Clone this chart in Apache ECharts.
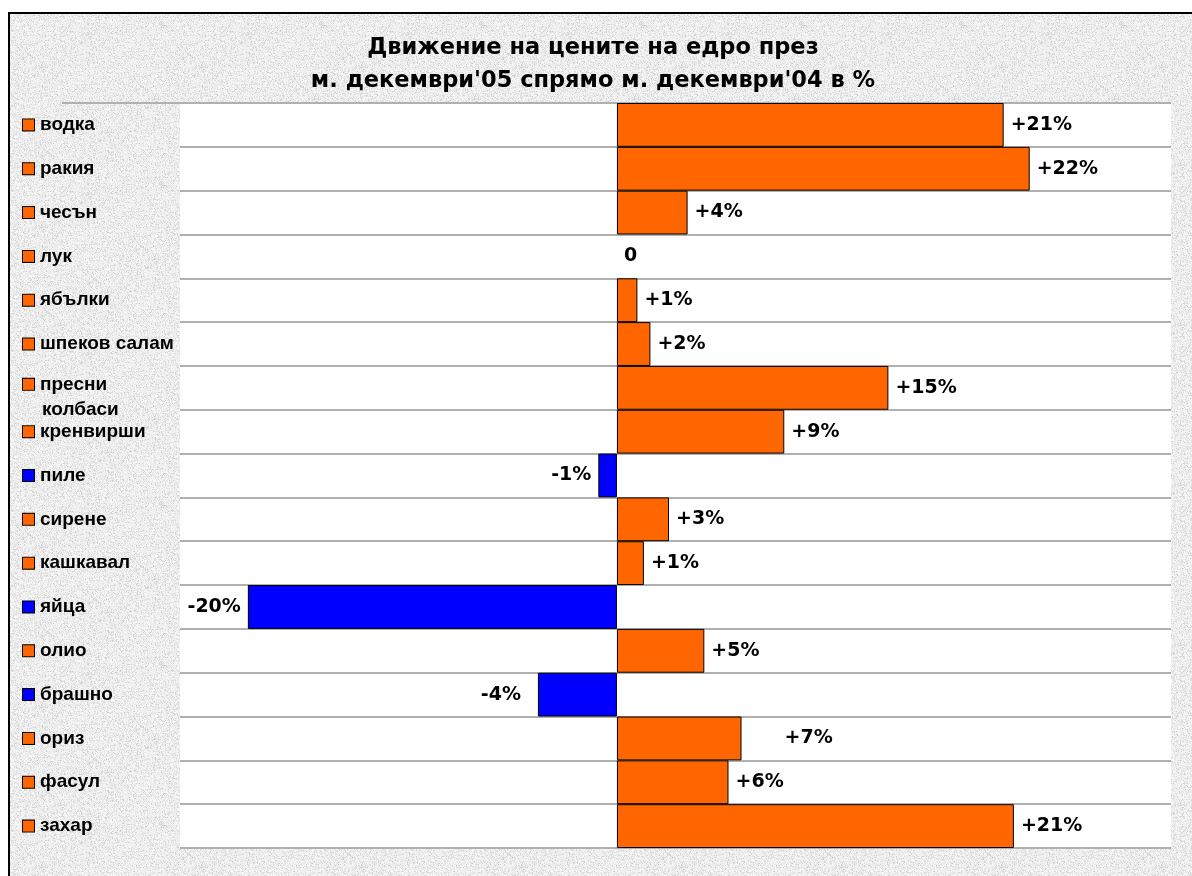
<!DOCTYPE html>
<html>
<head>
<meta charset="utf-8">
<script src="https://cdn.jsdelivr.net/npm/echarts@6/dist/echarts.min.js"></script>
<style>
  html, body { margin: 0; padding: 0; background: #fff; }
  #frame {
    position: absolute; left: 8px; top: 12px;
    width: 1200px; height: 880px;
    border-top: 2px solid #000; border-left: 2px solid #000;
    background-color: #e8e8e8;
  }
  #chart { position: absolute; left: 0; top: 0; width: 1192px; height: 876px; }
</style>
</head>
<body>
<div id="frame"></div>
<div id="chart"></div>
<script>
// data, top row first
var categories = ['водка', 'ракия', 'чесън', 'лук', 'ябълки', 'шпеков салам', 'пресни колбаси',
  'кренвирши', 'пиле', 'сирене', 'кашкавал', 'яйца', 'олио', 'брашно', 'ориз', 'фасул', 'захар'];
var values = [20.8, 22.2, 3.8, 0, 1.1, 1.8, 14.6, 9.0, -1.0, 2.8, 1.45, -19.85, 4.7, -4.25, 6.7, 6.0, 21.35];
var valueLabels = ['+21%', '+22%', '+4%', '0', '+1%', '+2%', '+15%', '+9%', '-1%', '+3%', '+1%',
  '-20%', '+5%', '-4%', '+7%', '+6%', '+21%'];

var title = 'Движение на цените на едро през\nм. декември\'05 спрямо м. декември\'04 в %';

var ORANGE = '#ff6600';
var BLUE = '#0000ff';

// granite-like background texture (deterministic noise)
(function () {
  var c = document.createElement('canvas');
  c.width = 160; c.height = 160;
  var ctx = c.getContext('2d');
  var img = ctx.createImageData(160, 160);
  var seed = 12345;
  function rnd() { seed = (seed * 1103515245 + 12345) & 0x7fffffff; return seed / 0x7fffffff; }
  for (var i = 0; i < img.data.length; i += 4) {
    var r = rnd();
    var g = r < 0.15 ? 205 + rnd() * 20 : 228 + rnd() * 22;
    img.data[i] = img.data[i + 1] = img.data[i + 2] = g;
    img.data[i + 3] = 255;
  }
  ctx.putImageData(img, 0, 0);
  document.getElementById('frame').style.backgroundImage = 'url(' + c.toDataURL() + ')';
})();

var myChart = echarts.init(document.getElementById('chart'));

var barData = values.map(function (v, i) {
  var item = {
    value: v,
    itemStyle: { color: v < 0 ? BLUE : ORANGE, borderWidth: v === 0 ? 0 : 1 },
    label: { position: v < 0 ? 'left' : 'right' }
  };
  // labels that were moved away from their bars in the original
  if (categories[i] === 'ориз') item.label.offset = [36, 0];
  if (categories[i] === 'брашно') item.label.offset = [-10, 0];
  return item;
});

var labelFont = {
  fontFamily: 'Liberation Sans', fontSize: 19, fontWeight: 'bold', color: '#000', lineHeight: 25
};

var option = {
  backgroundColor: 'transparent',
  animation: false,
  title: {
    text: title,
    left: 588,
    top: 27,
    textAlign: 'center',
    textStyle: {
      fontFamily: 'DejaVu Sans',
      fontSize: 22.5,
      fontWeight: 'bold',
      color: '#000',
      lineHeight: 33
    }
  },
  grid: {
    left: 180,
    right: 21,
    top: 103,
    bottom: 28,
    show: true,
    backgroundColor: '#fff',
    borderWidth: 0
  },
  xAxis: {
    type: 'value',
    show: false,
    min: -23.5,
    max: 29.8
  },
  yAxis: {
    type: 'category',
    inverse: true,
    data: categories,
    axisLine: { show: false },
    axisTick: { show: false },
    splitLine: {
      show: true,
      lineStyle: { color: '#b0b0b0', width: 2 }
    },
    axisLabel: {
      interval: 0,
      align: 'left',
      margin: 157,
      formatter: function (value, index) {
        var sq = values[index] < 0 ? '{b|}' : '{o|}';
        if (value === 'пресни колбаси') {
          return '{e| }\n' + sq + '{t|пресни}\n{t2|колбаси}';
        }
        return sq + '{t|' + value + '}';
      },
      rich: {
        o: { width: 11, height: 11, backgroundColor: ORANGE, borderColor: '#000', borderWidth: 1 },
        b: { width: 11, height: 11, backgroundColor: BLUE, borderColor: '#000', borderWidth: 1 },
        e: { fontSize: 4, lineHeight: 18 },
        t: Object.assign({ padding: [0, 0, 0, 6] }, labelFont),
        t2: Object.assign({ padding: [0, 0, 0, 19] }, labelFont)
      }
    }
  },
  graphic: [
    {
      type: 'line',
      shape: { x1: 62, y1: 103, x2: 1171, y2: 103 },
      style: { stroke: '#b0b0b0', lineWidth: 2 }
    }
  ],
  series: [
    {
      type: 'bar',
      barCategoryGap: '0%',
      data: barData,
      itemStyle: { borderColor: '#000', borderWidth: 1 },
      label: {
        show: true,
        distance: 4,
        formatter: function (p) { return valueLabels[p.dataIndex]; },
        fontFamily: 'DejaVu Sans',
        fontSize: 19,
        fontWeight: 'bold',
        color: '#000',
        backgroundColor: '#fff',
        padding: [3, 3]
      }
    }
  ]
};

myChart.setOption(option);
</script>
</body>
</html>
